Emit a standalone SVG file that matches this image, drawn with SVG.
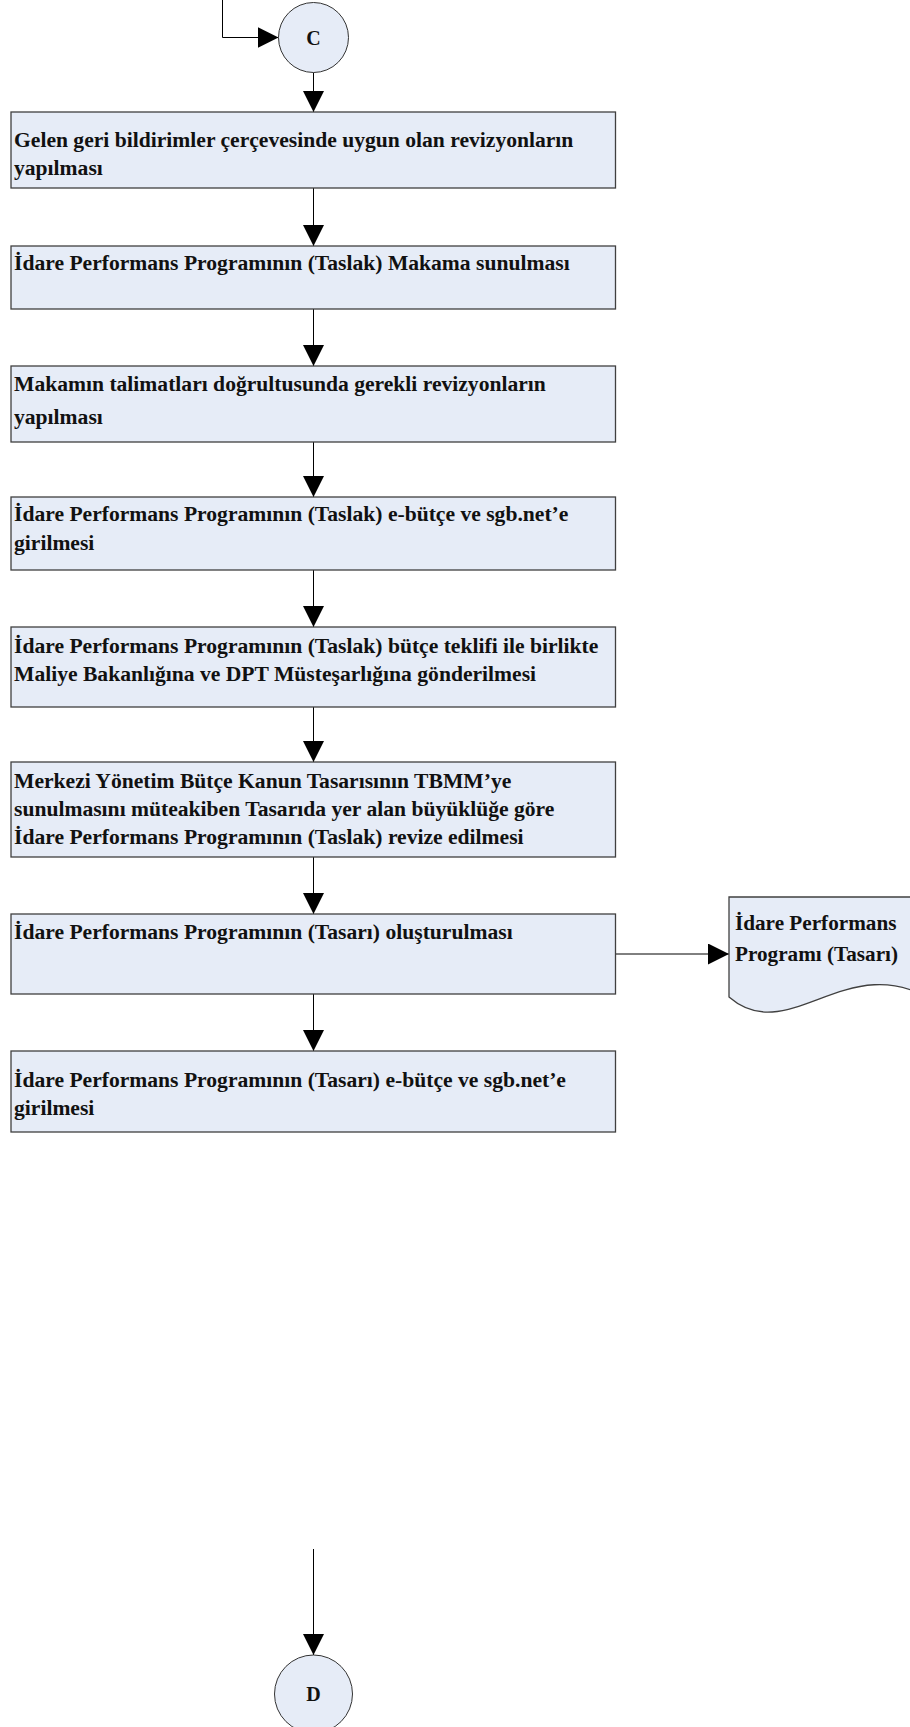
<svg xmlns="http://www.w3.org/2000/svg" width="910" height="1727" viewBox="0 0 910 1727">
<style>
.box{fill:#e6ecf7;stroke:#404040;stroke-width:1.3}
.cir{fill:#e6ecf7;stroke:#333;stroke-width:1}
.t{font-family:"Liberation Serif","Times New Roman",serif;font-weight:bold;font-size:21.6px;fill:#111}
.td{font-size:21.2px}
.tc{font-family:"Liberation Serif","Times New Roman",serif;font-weight:bold;font-size:20px;fill:#111;text-anchor:middle}
.ln{stroke:#000;stroke-width:1;fill:none}
</style>
<defs>
<marker id="ah" markerUnits="userSpaceOnUse" markerWidth="21" markerHeight="21" refX="21" refY="10.5" orient="auto">
<path d="M0,0 L21,10.5 L0,21 z" fill="#000"/>
</marker>
</defs>
<rect width="910" height="1727" fill="#fff"/>
<g id="connectors">
<path class="ln" d="M222.5,0 V37.5 H278.5" marker-end="url(#ah)"/>
<path class="ln" d="M313.5,72.5 V112" marker-end="url(#ah)"/>
<path class="ln" d="M313.5,188 V246" marker-end="url(#ah)"/>
<path class="ln" d="M313.5,309 V366" marker-end="url(#ah)"/>
<path class="ln" d="M313.5,442 V497" marker-end="url(#ah)"/>
<path class="ln" d="M313.5,570 V627" marker-end="url(#ah)"/>
<path class="ln" d="M313.5,707 V762" marker-end="url(#ah)"/>
<path class="ln" d="M313.5,857 V914" marker-end="url(#ah)"/>
<path class="ln" d="M313.5,994 V1051" marker-end="url(#ah)"/>
<path class="ln" d="M615.5,954 H729" marker-end="url(#ah)"/>
<path class="ln" d="M313.5,1549 V1655" marker-end="url(#ah)"/>
</g>
<g id="nodeC">
<circle class="cir" cx="313.5" cy="37.5" r="35"/>
<text class="tc" x="313.5" y="44.5">C</text>
</g>
<g id="box1">
<rect class="box" x="11" y="112" width="604.5" height="76"/>
<text class="t" x="14" y="147">Gelen geri bildirimler çerçevesinde uygun olan revizyonların</text>
<text class="t" x="14" y="175">yapılması</text>
</g>
<g id="box2">
<rect class="box" x="11" y="246" width="604.5" height="63"/>
<text class="t" x="14" y="270">İdare Performans Programının (Taslak) Makama sunulması</text>
</g>
<g id="box3">
<rect class="box" x="11" y="366" width="604.5" height="76"/>
<text class="t" x="14" y="391">Makamın talimatları doğrultusunda gerekli revizyonların</text>
<text class="t" x="14" y="424">yapılması</text>
</g>
<g id="box4">
<rect class="box" x="11" y="497" width="604.5" height="73"/>
<text class="t" x="14" y="521">İdare Performans Programının (Taslak) e-bütçe ve sgb.net’e</text>
<text class="t" x="14" y="550">girilmesi</text>
</g>
<g id="box5">
<rect class="box" x="11" y="627" width="604.5" height="80"/>
<text class="t" x="14" y="653">İdare Performans Programının (Taslak) bütçe teklifi ile birlikte</text>
<text class="t" x="14" y="681">Maliye Bakanlığına ve DPT Müsteşarlığına gönderilmesi</text>
</g>
<g id="box6">
<rect class="box" x="11" y="762" width="604.5" height="95"/>
<text class="t" x="14" y="788">Merkezi Yönetim Bütçe Kanun Tasarısının TBMM’ye</text>
<text class="t" x="14" y="816">sunulmasını müteakiben Tasarıda yer alan büyüklüğe göre</text>
<text class="t" x="14" y="844">İdare Performans Programının (Taslak) revize edilmesi</text>
</g>
<g id="box7">
<rect class="box" x="11" y="914" width="604.5" height="80"/>
<text class="t" x="14" y="939">İdare Performans Programının (Tasarı) oluşturulması</text>
</g>
<g id="doc">
<path class="box" d="M729,897 H940 V1005 C850,942 790,1050 729,997 Z"/>
<text class="t td" x="735" y="930">İdare Performans</text>
<text class="t td" x="735" y="961">Programı (Tasarı)</text>
</g>
<g id="box8">
<rect class="box" x="11" y="1051" width="604.5" height="81"/>
<text class="t" x="14" y="1087">İdare Performans Programının (Tasarı) e-bütçe ve sgb.net’e</text>
<text class="t" x="14" y="1115">girilmesi</text>
</g>
<g id="nodeD">
<circle class="cir" cx="313.5" cy="1694" r="39"/>
<text class="tc" x="313.5" y="1701">D</text>
</g>
</svg>
